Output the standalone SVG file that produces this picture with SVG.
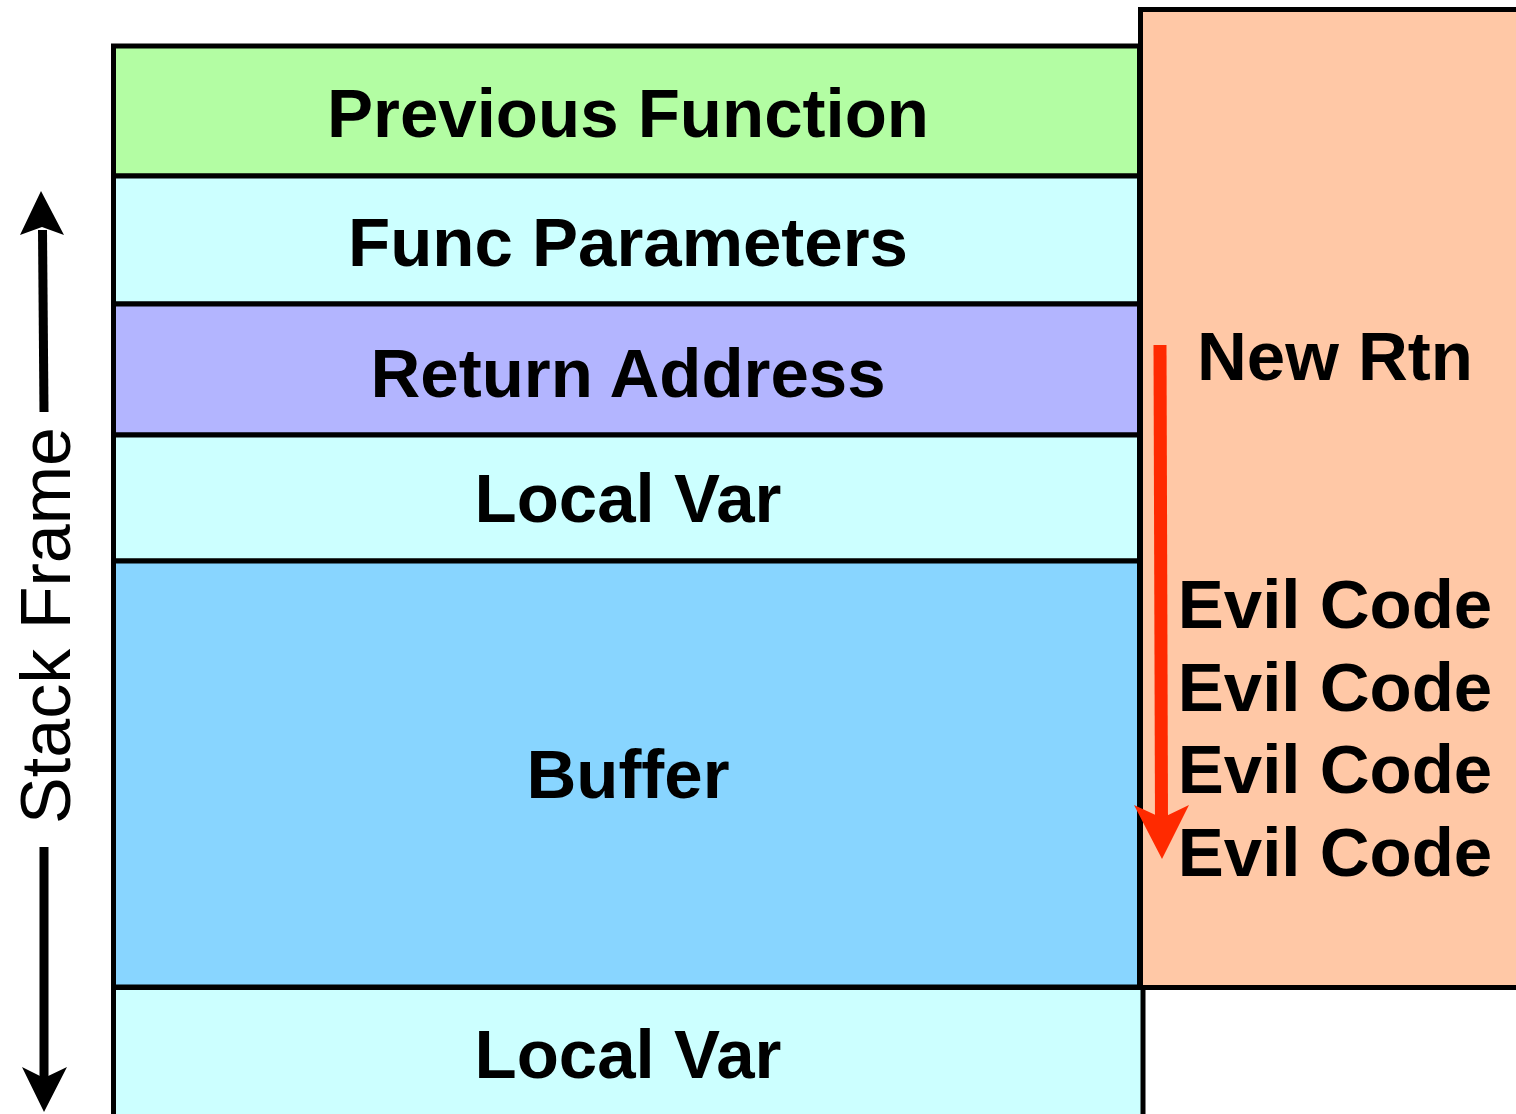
<svg xmlns="http://www.w3.org/2000/svg" width="1516" height="1114" viewBox="0 0 1516 1114">
<style>
.box{stroke:#000;stroke-width:5}
.lbl{font-family:"Liberation Sans",Arial,sans-serif;font-weight:bold;font-size:69px;fill:#000;text-anchor:middle}
.side{font-family:"Liberation Sans",Arial,sans-serif;font-size:70px;fill:#000;text-anchor:middle}
</style>
<rect width="1516" height="1114" fill="#fff"/>
<g id="evil">
<rect class="box" x="1140.5" y="9.5" width="390" height="978" fill="#ffc8a6"/>
<text class="lbl" x="1335" y="380">New Rtn</text>
<text class="lbl" x="1335" y="628">Evil Code</text>
<text class="lbl" x="1335" y="711">Evil Code</text>
<text class="lbl" x="1335" y="793">Evil Code</text>
<text class="lbl" x="1335" y="876">Evil Code</text>
</g>
<g id="prev">
<rect class="box" x="113.5" y="46" width="1026" height="130" fill="#b3fda3"/>
<text class="lbl" x="628" y="137">Previous Function</text>
</g>
<g id="params">
<rect class="box" x="113.5" y="176" width="1026" height="128" fill="#ccffff"/>
<text class="lbl" x="628" y="266">Func Parameters</text>
</g>
<g id="ret">
<rect class="box" x="113.5" y="304" width="1026" height="131" fill="#b3b5ff"/>
<text class="lbl" x="628" y="397">Return Address</text>
</g>
<g id="local1">
<rect class="box" x="113.5" y="435" width="1026" height="126" fill="#ccffff"/>
<text class="lbl" x="628" y="522">Local Var</text>
</g>
<g id="buffer">
<rect class="box" x="113.5" y="561" width="1026" height="426" fill="#88d5ff"/>
<text class="lbl" x="628" y="798">Buffer</text>
</g>
<g id="local2">
<rect class="box" x="113.5" y="987.5" width="1029.5" height="140" fill="#ccffff"/>
<text class="lbl" x="628" y="1078">Local Var</text>
</g>
<g id="stackframe">
<text class="side" transform="translate(70,625.5) rotate(-90)">Stack Frame</text>
</g>
<g id="connectors">
<line x1="42.5" y1="230" x2="44" y2="412" stroke="#000" stroke-width="9"/>
<polygon points="41,191 64,235 42,227 20,235" fill="#000"/>
<line x1="44" y1="847" x2="44" y2="1082" stroke="#000" stroke-width="9"/>
<polygon points="44,1112 22,1067 44,1078 67,1067" fill="#000"/>
<line x1="1160" y1="345" x2="1161.5" y2="822" stroke="#ff2a00" stroke-width="13"/>
<polygon points="1162,859 1134,805 1162,818 1189,805" fill="#ff2a00"/>
</g>
</svg>
